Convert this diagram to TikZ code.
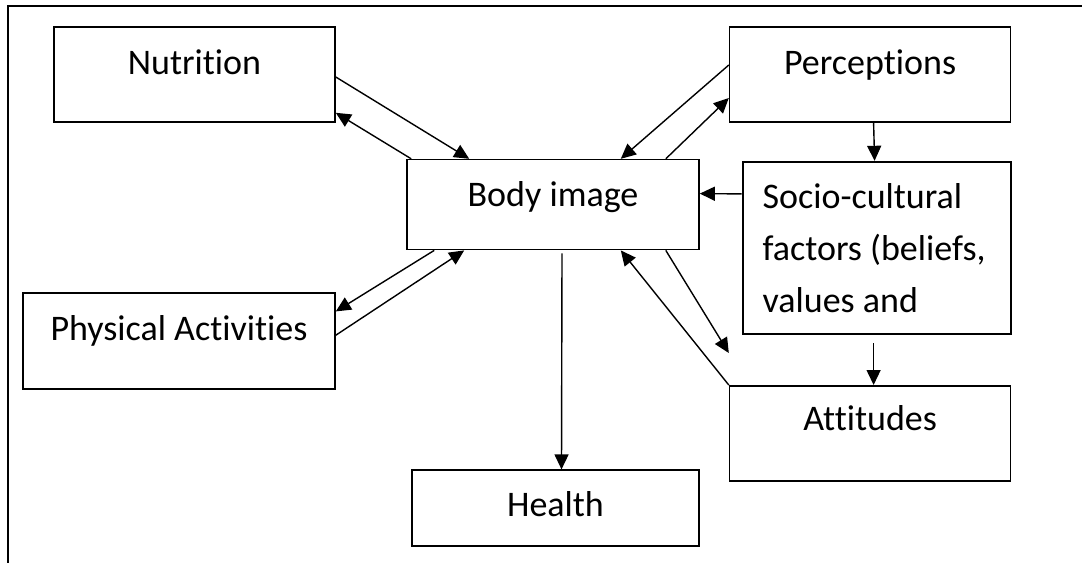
\documentclass[tikz,border=0pt]{standalone}
\usepackage{fontspec}
\setmainfont[Ligatures={NoCommon}]{Carlito}
\usepackage{tikz}
\usetikzlibrary{arrows.meta,positioning}

\begin{document}
\begin{tikzpicture}[
    x=0.5pt, y=-0.5pt,
    node distance=18pt,
    box/.style={rectangle, draw, line width=0.8pt, inner xsep=0pt, inner ysep=0pt, align=center, text height=23.5pt, font=\fontsize{18}{26}\selectfont},
    tallbox/.style={rectangle, draw, line width=1.1pt, text width=114pt, inner xsep=10pt, inner ysep=0pt, minimum height=86pt, align=flush left, font=\fontsize{18}{26}\selectfont},
    arrow/.style={-{Triangle[length=7.5pt,width=7pt]}, line width=0.7pt},
    frame/.style={line width=0.9pt}
]
\useasboundingbox (0,0) rectangle (1082,563);

% Frame
\draw[frame] (1082,6) -- (8,6) -- (8,563);

% Top row
\node[box, minimum width=140.5pt, text depth=24pt] (nutrition) at (194.5,74.5) {Nutrition};
\node[box, minimum width=140.5pt, text depth=24pt, right=196.5pt of nutrition] (perceptions) {Perceptions};

% Middle
\node[box, minimum width=146pt, text depth=21.5pt, below=18pt of nutrition, xshift=179.25pt] (bodyimage) {Body image};
\node[tallbox, below=19pt of perceptions, xshift=3.25pt] (socio) {Socio-cultural\\factors (beliefs,\\values and};
\node[box, minimum width=156pt, text depth=24.5pt, below=21pt of bodyimage, xshift=-187pt] (physical) {Physical Activities};

% Bottom
\node[box, minimum width=143.5pt, text height=23pt, text depth=15pt, below=109.5pt of bodyimage, xshift=1.25pt] (health) {Health};
\node[box, minimum width=140.5pt, text height=22.5pt, text depth=25pt, below=25pt of socio, xshift=-3.25pt] (attitudes) {Attitudes};
\coordinate (attin) at ([yshift=16pt]attitudes.north west);

% Connectors
\draw[arrow] ([yshift=-1.25pt]nutrition.east) -- ([xshift=31.5pt]bodyimage.north west);
\draw[arrow] ([xshift=2.5pt]bodyimage.north west) -- ([yshift=5pt]nutrition.south east);
\draw[arrow] ([yshift=3pt]physical.east) -- ([xshift=29pt]bodyimage.south west);
\draw[arrow] ([xshift=14pt]bodyimage.south west) -- ([yshift=-9.5pt]physical.north east);
\draw[arrow] ([yshift=4.75pt]perceptions.west) -- ([xshift=-39.5pt]bodyimage.north east);
\draw[arrow] ([xshift=-17pt]bodyimage.north east) -- ([yshift=-11.75pt]perceptions.west);
\draw[arrow] ([xshift=1.75pt]perceptions.south) -- ([xshift=-1pt]socio.north);
\draw[arrow] ([yshift=27pt]socio.west) -- ([yshift=5.5pt]bodyimage.east);
\draw[arrow] ([xshift=-1.5pt,yshift=-4pt]socio.south) -- ([xshift=1.75pt]attitudes.north);
\draw[arrow] ([xshift=-17pt]bodyimage.south east) -- (attin);
\draw[arrow] (attitudes.north west) -- ([xshift=-39.5pt]bodyimage.south east);
\draw[arrow] ([xshift=4.5pt,yshift=-1.5pt]bodyimage.south) -- ([xshift=3pt]health.north);

\end{tikzpicture}
\end{document}
